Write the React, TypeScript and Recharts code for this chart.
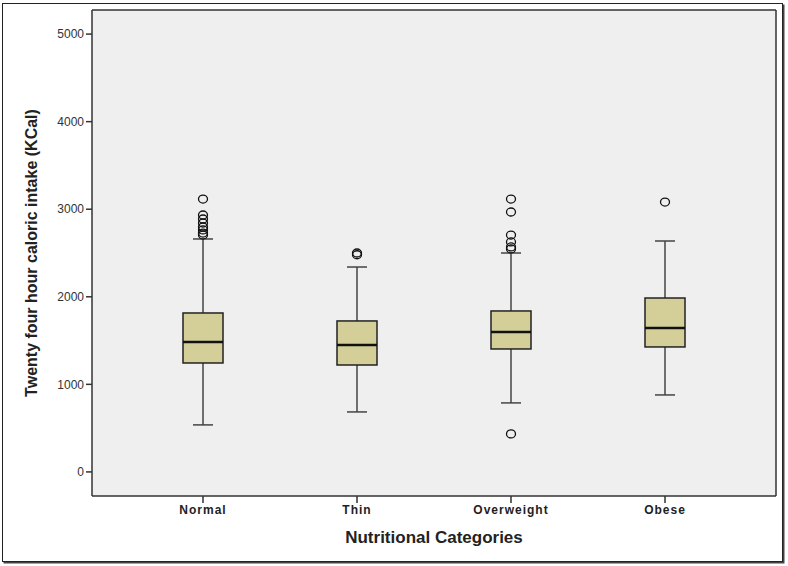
import React from 'react';
import { ComposedChart, Bar, Scatter, XAxis, YAxis, CartesianGrid } from 'recharts';

const categories = ['Normal', 'Thin', 'Overweight', 'Obese'];
const lowerWhisker = [537, 685, 788, 879];
const q1 = [1244, 1221, 1404, 1427];
const median = [1484, 1450, 1598, 1644];
const q3 = [1815, 1724, 1838, 1986];
const upperWhisker = [2660, 2340, 2500, 2637];
const outlierCats = [
  'Normal', 'Normal', 'Normal', 'Normal', 'Normal', 'Normal', 'Normal', 'Normal',
  'Thin', 'Thin',
  'Overweight', 'Overweight', 'Overweight', 'Overweight', 'Overweight', 'Overweight', 'Overweight',
  'Obese',
];
const outlierValues = [
  3116, 2934, 2888, 2842, 2797, 2763, 2728, 2705,
  2500, 2480,
  3116, 2968, 2705, 2626, 2569, 2546, 434,
  3082,
];
const yTicks = [0, 1000, 2000, 3000, 4000, 5000];

const data = categories.map((c, i) => ({
  cat: c,
  range: [lowerWhisker[i], upperWhisker[i]],
  lo: lowerWhisker[i],
  q1: q1[i],
  med: median[i],
  q3: q3[i],
  hi: upperWhisker[i],
}));
const outliers = outlierCats.map((c, i) => ({ cat: c, v: outlierValues[i] }));

const BoxShape = (props: any) => {
  const { x, y, width, height, payload } = props;
  const pA = y;
  const pB = y + height;
  const top = Math.min(pA, pB);
  const bottom = Math.max(pA, pB);
  const { lo, hi } = payload;
  const py = (v: number) => top + ((hi - v) * (bottom - top)) / (hi - lo);
  const cx = x + width / 2;
  const cap = 20;
  const yq1 = py(payload.q1);
  const yq3 = py(payload.q3);
  const ym = py(payload.med);
  return (
    <g>
      <line x1={cx} x2={cx} y1={top} y2={yq3} stroke="#444" strokeWidth={1.5} />
      <line x1={cx} x2={cx} y1={yq1} y2={bottom} stroke="#444" strokeWidth={1.5} />
      <line x1={cx - cap / 2} x2={cx + cap / 2} y1={top} y2={top} stroke="#444" strokeWidth={1.5} />
      <line x1={cx - cap / 2} x2={cx + cap / 2} y1={bottom} y2={bottom} stroke="#444" strokeWidth={1.5} />
      <rect x={x} y={yq3} width={width} height={yq1 - yq3} fill="#d4cf99" stroke="#222" strokeWidth={1.5} />
      <line x1={x} x2={x + width} y1={ym} y2={ym} stroke="#111" strokeWidth={2.5} />
    </g>
  );
};

const OutlierShape = (props: any) => {
  const { cx, cy } = props;
  return <ellipse cx={cx} cy={cy} rx={4.5} ry={4} fill="none" stroke="#111" strokeWidth={1.3} />;
};

export default function App() {
  return (
    <div style={{ position: 'absolute', left: 0, top: 0, width: 788, height: 566, background: '#fff' }}>
      <div
        style={{
          position: 'absolute',
          left: 2,
          top: 3,
          width: 779,
          height: 557,
          border: '1.5px solid #222',
          boxShadow: '1.5px 1.5px 0 #444',
        }}
      />
      <div style={{ position: 'absolute', left: 0, top: 0 }}>
        <ComposedChart
          width={788}
          height={566}
          data={data}
          margin={{ top: 9, right: 11, bottom: 40, left: 32 }}
          style={{ fontFamily: 'Liberation Sans, Arial, sans-serif' }}
        >
          <CartesianGrid fill="#efefef" horizontal={false} vertical={false} />
          <XAxis
            dataKey="cat"
            type="category"
            allowDuplicatedCategory={false}
            padding={{ left: 34, right: 34 }}
            height={30}
            axisLine={{ stroke: '#333', strokeWidth: 1.5 }}
            tickLine={{ stroke: '#333', strokeWidth: 1.5 }}
            tickSize={7}
            tick={{ fill: '#222', fontSize: 12, fontWeight: 'bold', letterSpacing: 1 }}
            label={{
              value: 'Nutritional Categories',
              position: 'bottom',
              offset: 5,
              style: { fontSize: 17, fontWeight: 'bold', fill: '#222' },
            }}
          />
          <XAxis
            xAxisId="top"
            orientation="top"
            dataKey="cat"
            height={1}
            tick={false}
            tickLine={false}
            axisLine={{ stroke: '#333', strokeWidth: 1.5 }}
          />
          <YAxis
            type="number"
            domain={[-275, 5275]}
            ticks={yTicks}
            allowDataOverflow
            width={60}
            axisLine={{ stroke: '#333', strokeWidth: 1.5 }}
            tickLine={{ stroke: '#333', strokeWidth: 1.5 }}
            tickSize={6}
            tick={{ fill: '#333', fontSize: 12 }}
            label={{
              value: 'Twenty four hour caloric intake (KCal)',
              angle: -90,
              position: 'insideLeft',
              offset: -1,
              style: { textAnchor: 'middle', fontSize: 16, fontWeight: 'bold', fill: '#222' },
            }}
          />
          <YAxis
            yAxisId="right"
            orientation="right"
            width={1}
            tick={false}
            tickLine={false}
            axisLine={{ stroke: '#333', strokeWidth: 1.5 }}
          />
          <Bar dataKey="range" barSize={40} shape={BoxShape} isAnimationActive={false} />
          <Scatter data={outliers} dataKey="v" shape={OutlierShape} isAnimationActive={false} />
        </ComposedChart>
      </div>
    </div>
  );
}
